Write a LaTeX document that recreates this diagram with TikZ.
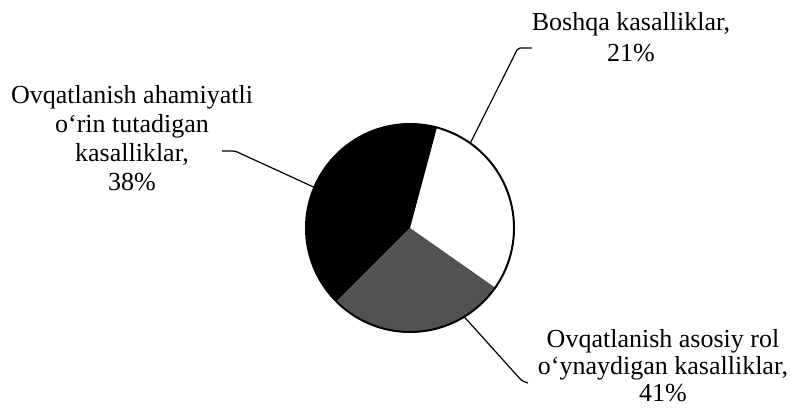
\documentclass[tikz,border=0pt]{standalone}
\usepackage{fontspec}
\setmainfont{Liberation Serif}
\usetikzlibrary{calc}

\begin{document}
\begin{tikzpicture}[x=0.5pt,y=0.5pt,thick]
\tikzstyle{pielabel}=[align=center,font=\fontsize{13}{14.5}\selectfont,inner sep=0pt]
\tikzstyle{leader}=[line width=0.6pt,rounded corners=1pt]
\tikzstyle{rim}=[line width=1pt]
\useasboundingbox (0,0) rectangle (796,412);

\coordinate (O) at (410,184);
% sectors
\fill[black] (O) -- ++(75:104) arc (75:225:104) -- cycle;
\fill[black!68] (O) -- ++(225:104) arc (225:325:104) -- cycle;
\draw[rim] (O) circle[radius=104];

\node[pielabel] (lbl38) at (132,273.5) {Ovqatlanish ahamiyatli\\o‘rin tutadigan\\kasalliklar,\\38\%};
\node[pielabel,font=\fontsize{13}{15.5}\selectfont] (lbl21) at (631,374.5) {Boshqa kasalliklar,\\21\%};
\node[pielabel,font=\fontsize{13}{13.5}\selectfont] (lbl41) at (663,46) {Ovqatlanish asosiy rol\\o‘ynaydigan kasalliklar,\\41\%};

\coordinate (p38) at ($(O)+(157:104)$);
\coordinate (p21) at ($(O)+(54.6:104)$);
\coordinate (p41) at ($(O)+(-58.6:104)$);
\coordinate (e38) at (222,261);
\coordinate (e21) at (532,364);
\coordinate (e41) at (528,29);

\draw[leader] (e38) -- ++(13,0) -- (p38);
\draw[leader] (e21) -- ++(-14,0) -- (p21);
\draw[leader] (p41) -- (522,31) -- (e41);
\end{tikzpicture}
\end{document}
